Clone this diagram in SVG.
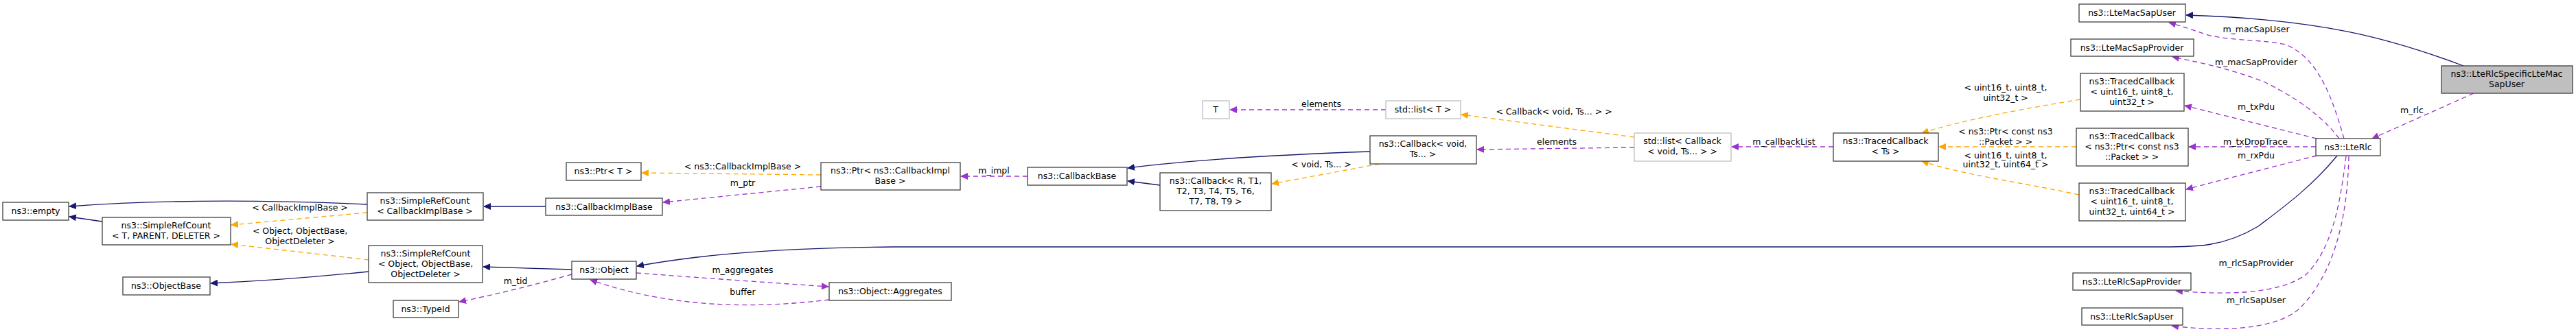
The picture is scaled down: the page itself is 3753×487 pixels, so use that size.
<svg xmlns="http://www.w3.org/2000/svg" width="3753" height="487" viewBox="0 0 3753 487">
<style>
text{font-family:"DejaVu Sans","Liberation Sans",sans-serif;font-size:12.5px;fill:#000;text-anchor:middle}
.n rect{fill:#fff;stroke:#404040;stroke-width:1.3}
.g rect{fill:#fff;stroke:#bfbfbf;stroke-width:1.3}
.cur rect{fill:#bfbfbf;stroke:#404040;stroke-width:1.3}
.inh{fill:none;stroke:#191970;stroke-width:1.3}
.tpl{fill:none;stroke:#ffa500;stroke-width:1.3;stroke-dasharray:7,5}
.use{fill:none;stroke:#9a32cd;stroke-width:1.3;stroke-dasharray:7,5}
</style>
<defs>
<marker id="ai" markerWidth="11" markerHeight="10" refX="10" refY="5" orient="auto" markerUnits="userSpaceOnUse"><path d="M0,0L11,5L0,10z" fill="#191970"/></marker>
<marker id="at" markerWidth="11" markerHeight="10" refX="10" refY="5" orient="auto" markerUnits="userSpaceOnUse"><path d="M0,0L11,5L0,10z" fill="#ffa500"/></marker>
<marker id="au" markerWidth="11" markerHeight="10" refX="10" refY="5" orient="auto" markerUnits="userSpaceOnUse"><path d="M0,0L11,5L0,10z" fill="#9a32cd"/></marker>
</defs>
<rect width="3753" height="487" fill="#fff"/>
<g id="connectors">
<path class="inh" marker-end="url(#ai)" d="M535,298 C400,292 250,290 101,301"/>
<path class="inh" marker-end="url(#ai)" d="M149,323 L101,316"/>
<path class="inh" marker-end="url(#ai)" d="M537,396 C450,405 380,410 307,413"/>
<path class="inh" marker-end="url(#ai)" d="M795,301 L705,301"/>
<path class="inh" marker-end="url(#ai)" d="M833,393 L704,389"/>
<path class="inh" marker-end="url(#ai)" d="M1996,221 C1850,226 1720,235 1643,245"/>
<path class="inh" marker-end="url(#ai)" d="M1690,270 L1643,264"/>
<path class="inh" marker-end="url(#ai)" d="M3405,227 C3370,270 3330,300 3290,330 C3240,360 3200,360 3150,360 L1300,360 C1100,362 1000,375 928,388"/>
<path class="inh" marker-end="url(#ai)" d="M3589,96 C3480,55 3380,28 3185,22"/>
<path class="tpl" marker-end="url(#at)" d="M535,310 L337,328"/>
<path class="tpl" marker-end="url(#at)" d="M537,379 L337,356"/>
<path class="tpl" marker-end="url(#at)" d="M1196,255 L935,252"/>
<path class="tpl" marker-end="url(#at)" d="M2010,239 L1853,268"/>
<path class="tpl" marker-end="url(#at)" d="M2381,200 L2129,167"/>
<path class="tpl" marker-end="url(#at)" d="M3031,145 C2940,160 2860,175 2800,194"/>
<path class="tpl" marker-end="url(#at)" d="M3025,214 L2825,214"/>
<path class="tpl" marker-end="url(#at)" d="M3029,284 C2940,265 2860,255 2800,235"/>
<path class="use" marker-end="url(#au)" d="M1196,272 L966,295"/>
<path class="use" marker-end="url(#au)" d="M1497,257 L1400,257"/>
<path class="use" marker-end="url(#au)" d="M927,398 C1020,405 1120,412 1207,418"/>
<path class="use" marker-end="url(#au)" d="M1208,437 C1100,450 980,450 860,408"/>
<path class="use" marker-end="url(#au)" d="M833,400 C780,415 720,430 669,440"/>
<path class="use" marker-end="url(#au)" d="M2019,160 L1792,160"/>
<path class="use" marker-end="url(#au)" d="M2381,215 L2152,218"/>
<path class="use" marker-end="url(#au)" d="M2671,214 L2523,214"/>
<path class="use" marker-end="url(#au)" d="M3415,202 C3400,150 3380,85 3330,65 C3300,58 3260,60 3220,52 C3200,46 3180,38 3160,33"/>
<path class="use" marker-end="url(#au)" d="M3408,202 C3380,165 3340,140 3300,120 C3250,100 3200,90 3165,83"/>
<path class="use" marker-end="url(#au)" d="M3375,202 L3183,154"/>
<path class="use" marker-end="url(#au)" d="M3374,214 L3189,214"/>
<path class="use" marker-end="url(#au)" d="M3375,227 L3185,276"/>
<path class="use" marker-end="url(#au)" d="M3604,136 L3456,202"/>
<path class="use" marker-end="url(#au)" d="M3418,228 C3410,290 3400,360 3360,400 C3320,430 3240,430 3170,424"/>
<path class="use" marker-end="url(#au)" d="M3422,228 C3420,320 3400,400 3350,450 C3310,485 3220,482 3164,475"/>
<text x="437" y="307">&lt; CallbackImplBase &gt;</text>
<text x="437" y="341">&lt; Object, ObjectBase,</text>
<text x="437" y="356">ObjectDeleter &gt;</text>
<text x="1082" y="247">&lt; ns3::CallbackImplBase &gt;</text>
<text x="1082" y="271">m_ptr</text>
<text x="1448" y="253">m_impl</text>
<text x="1082" y="398">m_aggregates</text>
<text x="1082" y="430">buffer</text>
<text x="751" y="414">m_tid</text>
<text x="1925" y="156">elements</text>
<text x="2264" y="167">&lt; Callback&lt; void, Ts... &gt; &gt;</text>
<text x="2268" y="211">elements</text>
<text x="1925" y="244">&lt; void, Ts... &gt;</text>
<text x="2599" y="211">m_callbackList</text>
<text x="2922" y="132">&lt; uint16_t, uint8_t,</text>
<text x="2922" y="147">uint32_t &gt;</text>
<text x="2922" y="196">&lt; ns3::Ptr&lt; const ns3</text>
<text x="2922" y="211">::Packet &gt; &gt;</text>
<text x="2922" y="231">&lt; uint16_t, uint8_t,</text>
<text x="2922" y="244">uint32_t, uint64_t &gt;</text>
<text x="3287" y="47">m_macSapUser</text>
<text x="3287" y="95">m_macSapProvider</text>
<text x="3287" y="160">m_txPdu</text>
<text x="3286" y="211">m_txDropTrace</text>
<text x="3287" y="231">m_rxPdu</text>
<text x="3514" y="165">m_rlc</text>
<text x="3287" y="388">m_rlcSapProvider</text>
<text x="3287" y="442">m_rlcSapUser</text>
</g>
<g id="empty" class="n"><rect x="4" y="295" width="96" height="26"/><text x="52" y="312">ns3::empty</text></g>
<g id="srcT" class="n"><rect x="149" y="317" width="187" height="40"/><text x="242" y="333">ns3::SimpleRefCount</text><text x="242" y="348">&lt; T, PARENT, DELETER &gt;</text></g>
<g id="srcCIB" class="n"><rect x="535" y="281" width="169" height="40"/><text x="619" y="297">ns3::SimpleRefCount</text><text x="619" y="312">&lt; CallbackImplBase &gt;</text></g>
<g id="srcObj" class="n"><rect x="537" y="358" width="166" height="54"/><text x="620" y="374">ns3::SimpleRefCount</text><text x="620" y="389">&lt; Object, ObjectBase,</text><text x="620" y="404">ObjectDeleter &gt;</text></g>
<g id="objbase" class="n"><rect x="179" y="404" width="127" height="26"/><text x="242" y="421">ns3::ObjectBase</text></g>
<g id="typeid" class="n"><rect x="573" y="438" width="95" height="25"/><text x="620" y="455">ns3::TypeId</text></g>
<g id="ptrT" class="n"><rect x="825" y="237" width="109" height="26"/><text x="879" y="254">ns3::Ptr&lt; T &gt;</text></g>
<g id="ptrCIB" class="n"><rect x="1196" y="237" width="203" height="40"/><text x="1297" y="253">ns3::Ptr&lt; ns3::CallbackImpl</text><text x="1297" y="268">Base &gt;</text></g>
<g id="cib" class="n"><rect x="795" y="289" width="170" height="25"/><text x="880" y="306">ns3::CallbackImplBase</text></g>
<g id="object" class="n"><rect x="833" y="381" width="94" height="26"/><text x="880" y="398">ns3::Object</text></g>
<g id="aggr" class="n"><rect x="1208" y="412" width="178" height="26"/><text x="1297" y="429">ns3::Object::Aggregates</text></g>
<g id="cbbase" class="n"><rect x="1497" y="244" width="145" height="26"/><text x="1569" y="261">ns3::CallbackBase</text></g>
<g id="cbR" class="n"><rect x="1690" y="252" width="162" height="55"/><text x="1771" y="268">ns3::Callback&lt; R, T1,</text><text x="1771" y="283">T2, T3, T4, T5, T6,</text><text x="1771" y="298">T7, T8, T9 &gt;</text></g>
<g id="cbvoid" class="n"><rect x="1996" y="198" width="155" height="41"/><text x="2073" y="214">ns3::Callback&lt; void,</text><text x="2073" y="229">Ts... &gt;</text></g>
<g id="T" class="g"><rect x="1752" y="147" width="39" height="26"/><text x="1771" y="164">T</text></g>
<g id="listT" class="g"><rect x="2019" y="147" width="109" height="26"/><text x="2073" y="164">std::list&lt; T &gt;</text></g>
<g id="listCb" class="g"><rect x="2381" y="194" width="141" height="41"/><text x="2451" y="210">std::list&lt; Callback</text><text x="2451" y="225">&lt; void, Ts... &gt; &gt;</text></g>
<g id="tcTs" class="n"><rect x="2671" y="194" width="153" height="41"/><text x="2747" y="210">ns3::TracedCallback</text><text x="2747" y="225">&lt; Ts &gt;</text></g>
<g id="macSapUser" class="n"><rect x="3029" y="6" width="155" height="26"/><text x="3106" y="23">ns3::LteMacSapUser</text></g>
<g id="macSapProv" class="n"><rect x="3017" y="57" width="179" height="25"/><text x="3106" y="74">ns3::LteMacSapProvider</text></g>
<g id="tc1" class="n"><rect x="3031" y="107" width="151" height="55"/><text x="3106" y="123">ns3::TracedCallback</text><text x="3106" y="138">&lt; uint16_t, uint8_t,</text><text x="3106" y="153">uint32_t &gt;</text></g>
<g id="tc2" class="n"><rect x="3025" y="187" width="163" height="55"/><text x="3106" y="203">ns3::TracedCallback</text><text x="3106" y="218">&lt; ns3::Ptr&lt; const ns3</text><text x="3106" y="233">::Packet &gt; &gt;</text></g>
<g id="tc3" class="n"><rect x="3029" y="267" width="155" height="55"/><text x="3106" y="283">ns3::TracedCallback</text><text x="3106" y="298">&lt; uint16_t, uint8_t,</text><text x="3106" y="313">uint32_t, uint64_t &gt;</text></g>
<g id="rlcSapProv" class="n"><rect x="3020" y="398" width="172" height="25"/><text x="3106" y="415">ns3::LteRlcSapProvider</text></g>
<g id="rlcSapUser" class="n"><rect x="3033" y="449" width="147" height="25"/><text x="3106" y="466">ns3::LteRlcSapUser</text></g>
<g id="lteRlc" class="n"><rect x="3374" y="202" width="94" height="25"/><text x="3421" y="219">ns3::LteRlc</text></g>
<g id="lteRlcSpecific" class="cur"><rect x="3557" y="96" width="191" height="40"/><text x="3652" y="112">ns3::LteRlcSpecificLteMac</text><text x="3652" y="127">SapUser</text></g>
</svg>
